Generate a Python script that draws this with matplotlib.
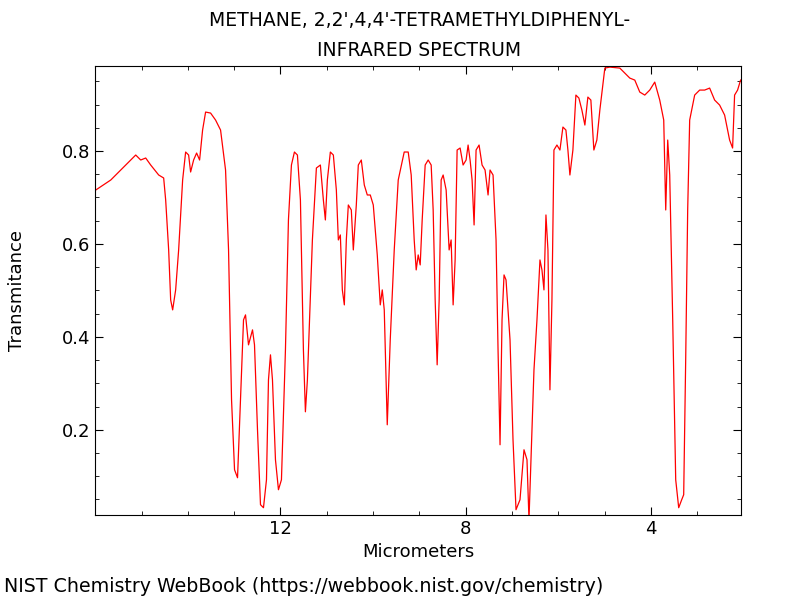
import matplotlib
matplotlib.use("Agg")
import matplotlib.pyplot as plt
import numpy as np
from matplotlib.ticker import MultipleLocator

px = [95,110,125,135,140,145,150,158,163,165,168,170,172,175,178,182,185,188,190,193,196,199,202,205,210,215,220,225,228,231,234,237,240,243,245,248,252,254,257,260,263,266,268,270,272,275,278,281,285,288,291,294,297,300,303,305,307,312,316,320,323,325,327,330,333,336,338,340,342,344,346,348,351,353,356,358,361,364,367,370,373,377,380,382,384,387,390,394,398,404,408,411,414,416,418,420,422,425,428,431,433,435,437,439,441,443,446,449,451,453,455,457,460,463,466,468,470,472,474,476,479,482,485,488,490,493,496,498,500,502,504,506,508,510,513,516,520,524,527,529,531,534,537,540,542,544,546,548,550,552,554,557,560,563,566,568,570,573,576,579,582,585,588,591,594,597,600,605,610,620,625,630,635,640,645,650,655,660,664,666,668,670,673,676,679,682,684,686,688,690,695,700,705,710,715,720,725,730,733,735,738,741]
py = [190,180,165,155,160,158,165,175,178,200,250,300,310,290,250,180,152,155,172,160,153,160,130,112,113,120,130,170,250,400,470,478,400,320,315,345,330,345,430,505,508,480,380,355,380,460,490,480,350,220,165,152,155,200,350,412,380,240,168,165,200,220,180,152,155,190,240,235,290,305,240,205,210,250,205,165,160,185,195,195,205,255,305,290,310,425,340,250,180,152,152,175,240,270,255,265,220,165,160,165,210,300,365,300,180,175,190,250,240,305,260,150,148,165,160,145,160,180,225,150,145,165,170,195,170,175,240,350,445,320,275,280,310,340,440,510,500,450,460,520,460,370,320,260,270,290,215,250,390,300,150,145,150,127,130,150,175,150,95,98,110,125,97,100,150,140,110,68,67,68,73,78,80,92,95,90,82,100,120,210,140,175,320,480,508,500,495,360,210,120,95,90,90,88,100,105,115,140,148,95,90,80]

wavelength = [12 + (280 - p) / 46.4 for p in px]
transmittance = [0.8 + (151 - q) / 465 for q in py]

fig = plt.figure(figsize=(8, 6), dpi=100)
ax = fig.add_axes([0.119, 0.142, 0.807, 0.748])
ax.plot(wavelength, transmittance, color="#ff0000", lw=0.9)
ax.set_xlim(16, 2.06)
ax.set_ylim(0.017, 0.983)
ax.set_xticks([12, 8, 4])
ax.xaxis.set_minor_locator(MultipleLocator(1))
ax.set_yticks([0.2, 0.4, 0.6, 0.8])
ax.yaxis.set_minor_locator(MultipleLocator(0.05))
ax.tick_params(which="both", direction="in", top=True, right=True, labelsize=13)
ax.tick_params(which="major", length=6)
ax.tick_params(which="minor", length=3)
ax.set_xlabel("Micrometers", fontsize=13)
ax.set_ylabel("Transmitance", fontsize=13, labelpad=26)
fig.text(0.524, 0.965, "METHANE, 2,2',4,4'-TETRAMETHYLDIPHENYL-", ha="center", va="center", fontsize=13.5)
fig.text(0.524, 0.916, "INFRARED SPECTRUM", ha="center", va="center", fontsize=13.5)
fig.text(0.005, 0.022, "NIST Chemistry WebBook (https://webbook.nist.gov/chemistry)", fontsize=13.7, va="center")
fig.savefig("out.png")
